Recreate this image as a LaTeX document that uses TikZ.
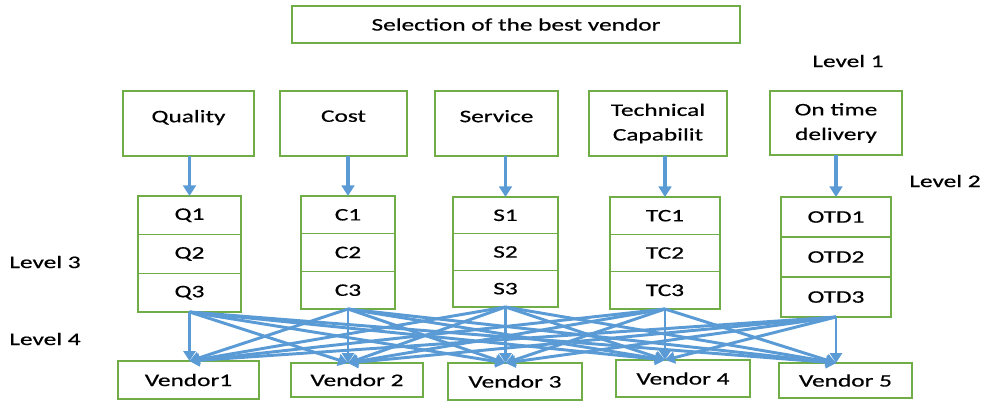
\documentclass[tikz,border=0pt]{standalone}
\usepackage{fontspec}
\setmainfont{Carlito}[FakeStretch=1.44,FakeBold=0.6]
\usetikzlibrary{positioning}
\usetikzlibrary{arrows.meta}
\definecolor{boxgreen}{HTML}{70AD47}
\definecolor{linkblue}{HTML}{5B9BD5}

\begin{document}
\begin{tikzpicture}[x=0.025cm,y=-0.025cm,
  box/.style={rectangle,draw=boxgreen,line width=1pt,align=center,inner sep=0pt,outer sep=0pt,
    font=\fontsize{12.5}{17.5}\selectfont},
  lvl/.style={font=\fontsize{12.5}{14}\selectfont},
  link/.style={linkblue,line width=2.2pt,-{Triangle[width=9pt,length=7.5pt]}},
  cross/.style={linkblue,line width=2.1pt,-{Triangle[width=8.5pt,length=7pt]}}]
\useasboundingbox (0,0) rectangle (989,401);
\path (516,24.5) node(goal)[box,minimum width=11.2cm,minimum height=0.925cm]{Selection of the best vendor}
(188.5,123.5) node(qual)[box,minimum width=3.275cm,minimum height=1.625cm]{Quality\\[-7pt] \mbox{}}
(343.5,123.5) node(cost)[box,minimum width=3.175cm,minimum height=1.625cm]{Cost\\[-7pt] \mbox{}}
(496.5,123.5) node(serv)[box,minimum width=3.075cm,minimum height=1.625cm]{Service\\[-7pt] \mbox{}}
(658,123.5) node(tech)[box,minimum width=3.45cm,minimum height=1.625cm]{Technical\\ Capabilit}
(836,123) node(otd)[box,minimum width=3.3cm,minimum height=1.6cm]{On time\\ delivery};
% level 3 boxes
\path (189.5,215.3) node(q1)[box,minimum width=2.575cm,minimum height=0.967cm]{Q1}
(348,214.8) node(c1)[box,minimum width=2.35cm,minimum height=0.942cm]{C1}
(505.5,215.3) node(s1)[box,minimum width=2.625cm,minimum height=0.917cm]{S1}
(665,215.7) node(tc1)[box,minimum width=2.75cm,minimum height=0.933cm]{TC1}
(836,217) node(otd1)[box,minimum width=2.75cm,minimum height=1cm]{OTD1};
\node(q2)[box,minimum width=2.575cm,minimum height=0.967cm,below=0pt of q1]{Q2};
\node(q3)[box,minimum width=2.575cm,minimum height=0.967cm,below=0pt of q2]{Q3};
\node(c2)[box,minimum width=2.35cm,minimum height=0.942cm,below=0pt of c1]{C2};
\node(c3)[box,minimum width=2.35cm,minimum height=0.942cm,below=0pt of c2]{C3};
\node(s2)[box,minimum width=2.625cm,minimum height=0.917cm,below=0pt of s1]{S2};
\node(s3)[box,minimum width=2.625cm,minimum height=0.917cm,below=0pt of s2]{S3};
\node(tc2)[box,minimum width=2.75cm,minimum height=0.933cm,below=0pt of tc1]{TC2};
\node(tc3)[box,minimum width=2.75cm,minimum height=0.933cm,below=0pt of tc2]{TC3};
\node(otd2)[box,minimum width=2.75cm,minimum height=1cm,below=0pt of otd1]{OTD2};
\node(otd3)[box,minimum width=2.75cm,minimum height=1cm,below=0pt of otd2]{OTD3};
% vendors
\path (188.5,380) node(v1)[box,minimum width=3.525cm,minimum height=0.95cm]{Vendor1}
(357,380) node(v2)[box,minimum width=3.3cm,minimum height=0.85cm]{Vendor 2}
(515,381.5) node(v3)[box,minimum width=3.35cm,minimum height=0.925cm]{Vendor 3}
(683,378.5) node(v4)[box,minimum width=3.35cm,minimum height=0.925cm]{Vendor 4}
(845.5,380.5) node(v5)[box,minimum width=3.325cm,minimum height=0.875cm]{Vendor 5};
% level labels
\path (848,61) node(lev1)[lvl]{Level 1}
(945,181) node(lev2)[lvl]{Level 2}
(45,262) node(lev3)[lvl]{Level 3}
(45,339) node(lev4)[lvl]{Level 4};
\draw[link](qual.south -| q1.north)--(q1.north);
\draw[link](cost.south -| c1.north)--(c1.north);
\draw[link](serv.south -| s1.north)--(s1.north);
\draw[link](tech.south -| tc1.north)--(tc1.north);
\draw[link](otd.south -| otd1.north)--(otd1.north);
\path(q3.south) edge[cross] (v1.north -| q3.south) edge[cross] (v2.north -| c3.south) edge[cross] (v3.north -| s3.south) edge[cross] (v4.north -| tc3.south) edge[cross] (v5.north -| otd3.south);
\path(c3.south) edge[cross] (v1.north -| q3.south) edge[cross] (v2.north -| c3.south) edge[cross] (v3.north -| s3.south) edge[cross] (v4.north -| tc3.south) edge[cross] (v5.north -| otd3.south);
\path(s3.south) edge[cross] (v1.north -| q3.south) edge[cross] (v2.north -| c3.south) edge[cross] (v3.north -| s3.south) edge[cross] (v4.north -| tc3.south) edge[cross] (v5.north -| otd3.south);
\path(tc3.south) edge[cross] (v1.north -| q3.south) edge[cross] (v2.north -| c3.south) edge[cross] (v3.north -| s3.south) edge[cross] (v4.north -| tc3.south) edge[cross] (v5.north -| otd3.south);
\path(otd3.south) edge[cross] (v1.north -| q3.south) edge[cross] (v2.north -| c3.south) edge[cross] (v3.north -| s3.south) edge[cross] (v4.north -| tc3.south) edge[cross] (v5.north -| otd3.south);

\end{tikzpicture}
\end{document}
